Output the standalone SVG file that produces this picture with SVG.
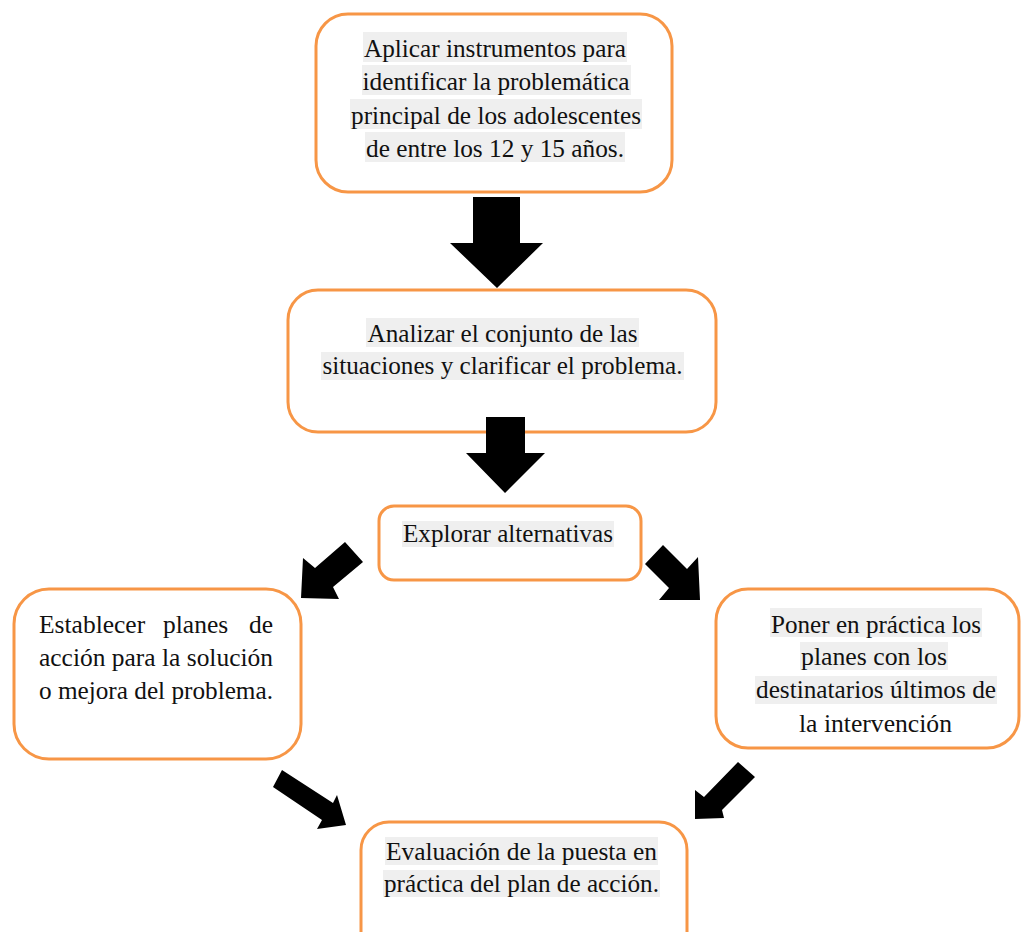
<svg xmlns="http://www.w3.org/2000/svg" width="1021" height="932" viewBox="0 0 1021 932">
<style>
.box{fill:#ffffff;stroke:#F79646;stroke-width:3}
.hl{fill:#efefef}
.t{font-family:'Liberation Serif',serif;font-size:25.5px;fill:#111111}
.m{text-anchor:middle}
.arr{fill:#000000}
</style>
<rect width="1021" height="932" fill="#ffffff"/>
<g id="node1">
<rect class="box" x="316" y="14" width="356" height="178" rx="32"/>
<rect class="hl" x="363" y="32" width="264" height="30"/>
<rect class="hl" x="362" y="65" width="269" height="30"/>
<rect class="hl" x="350" y="99" width="292" height="30"/>
<rect class="hl" x="365" y="132" width="260" height="30"/>
<text class="t m" x="495" y="57" textLength="262" lengthAdjust="spacingAndGlyphs">Aplicar instrumentos para</text>
<text class="t m" x="496" y="90" textLength="267" lengthAdjust="spacingAndGlyphs">identificar la problemática</text>
<text class="t m" x="496" y="124" textLength="290" lengthAdjust="spacingAndGlyphs">principal de los adolescentes</text>
<text class="t m" x="495" y="157" textLength="258" lengthAdjust="spacingAndGlyphs">de entre los 12 y 15 años.</text>
</g>
<g id="node2">
<rect class="box" x="288" y="290" width="428" height="142" rx="30"/>
<rect class="hl" x="366" y="318" width="273" height="29"/>
<rect class="hl" x="321" y="352" width="363" height="28"/>
<text class="t m" x="502.5" y="342" textLength="270" lengthAdjust="spacingAndGlyphs">Analizar el conjunto de las</text>
<text class="t m" x="502.5" y="374" textLength="360" lengthAdjust="spacingAndGlyphs">situaciones y clarificar el problema.</text>
</g>
<g id="node3">
<rect class="box" x="379" y="506" width="262" height="74" rx="15"/>
<rect class="hl" x="402" y="521" width="212" height="26"/>
<text class="t m" x="508" y="542" textLength="210" lengthAdjust="spacingAndGlyphs">Explorar alternativas</text>
</g>
<g id="node4">
<rect class="box" x="14" y="589" width="287" height="170" rx="35"/>
<text class="t" x="39" y="633">Establecer</text>
<text class="t" x="163" y="633">planes</text>
<text class="t" x="273" y="633" text-anchor="end">de</text>
<text class="t" x="39" y="666" textLength="234" lengthAdjust="spacingAndGlyphs">acción para la solución</text>
<text class="t" x="39" y="699" textLength="234" lengthAdjust="spacingAndGlyphs">o mejora del problema.</text>
</g>
<g id="node5">
<rect class="box" x="716" y="589" width="303" height="159" rx="32"/>
<rect class="hl" x="770" y="608" width="212" height="29"/>
<rect class="hl" x="800" y="642" width="148" height="28"/>
<rect class="hl" x="755" y="676" width="242" height="28"/>
<text class="t m" x="876" y="633" textLength="210" lengthAdjust="spacingAndGlyphs">Poner en práctica los</text>
<text class="t m" x="874" y="665" textLength="146" lengthAdjust="spacingAndGlyphs">planes con los</text>
<text class="t m" x="876" y="698" textLength="240" lengthAdjust="spacingAndGlyphs">destinatarios últimos de</text>
<text class="t m" x="875.5" y="732" textLength="153" lengthAdjust="spacingAndGlyphs">la intervención</text>
</g>
<g id="node6">
<rect class="box" x="361" y="822" width="326" height="140" rx="28"/>
<rect class="hl" x="385" y="837" width="273" height="28"/>
<rect class="hl" x="383" y="870" width="277" height="27"/>
<text class="t m" x="521.5" y="860" textLength="271" lengthAdjust="spacingAndGlyphs">Evaluación de la puesta en</text>
<text class="t m" x="521.5" y="892" textLength="275" lengthAdjust="spacingAndGlyphs">práctica del plan de acción.</text>
</g>
<g id="connectors">
<polygon class="arr" points="473,197 520,197 520,243 543,243 497,288 450,243 473,243"/>
<polygon class="arr" points="486,417 525,417 525,453 545,453 505,493 466,453 486,453"/>
<polygon class="arr" points="345,542 363,562 333,587 339,599 301,598 303,558 315,568"/>
<polygon class="arr" points="663,545 687,569 698,557 700,600 659,600 669,588 645,564"/>
<polygon class="arr" points="282,770 333,803 337,795 346,825 317,829 322,820 273,787"/>
<polygon class="arr" points="738,762 755,777 722,810 724,818 695,819 695,790 704,797"/>
</g>
</svg>
